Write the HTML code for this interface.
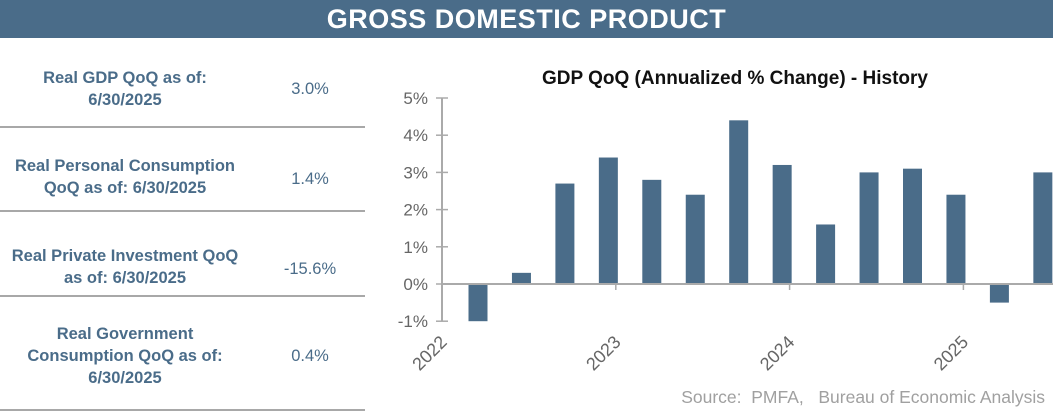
<!DOCTYPE html>
<html><head><meta charset="utf-8"><style>
body{margin:0;width:1053px;height:417px;background:#fff;font-family:"Liberation Sans",sans-serif;overflow:hidden;position:relative}
#hdr{position:absolute;left:0;top:0;width:1053px;height:38px;background:#4a6c89;color:#fff;font-weight:bold;font-size:27px;text-align:center;line-height:38px;letter-spacing:0.5px}
.row{position:absolute;left:0;width:365px;color:#4a6c89}
.lab{position:absolute;left:0;width:250px;text-align:center;font-size:16.5px;font-weight:bold;line-height:22px}
.val{position:absolute;left:260px;width:100px;text-align:center;font-size:16.5px}
.sep{position:absolute;left:0;width:365px;height:2px;background:#a8a8a8}
#src{position:absolute;right:8px;top:387px;font-size:17.5px;color:#a0a0a0}
</style></head><body>
<div id="hdr">GROSS DOMESTIC PRODUCT</div>
<div class="row" style="top:60px;height:60px">
<div class="lab" style="top:7px">Real GDP QoQ as of:<br>6/30/2025</div>
<div class="val" style="top:20px">3.0%</div></div>
<div class="sep" style="top:126px"></div>
<div class="row" style="top:150px">
<div class="lab" style="top:5px">Real Personal Consumption<br>QoQ as of: 6/30/2025</div>
<div class="val" style="top:20px">1.4%</div></div>
<div class="sep" style="top:210px"></div>
<div class="row" style="top:240px">
<div class="lab" style="top:5px">Real Private Investment QoQ<br>as of: 6/30/2025</div>
<div class="val" style="top:20px">-15.6%</div></div>
<div class="sep" style="top:295px"></div>
<div class="row" style="top:322px">
<div class="lab" style="top:1px">Real Government<br>Consumption QoQ as of:<br>6/30/2025</div>
<div class="val" style="top:25px">0.4%</div></div>
<div class="sep" style="top:409px"></div>
<svg id="chart" width="1053" height="417" style="position:absolute;left:0;top:0">
<text x="735" y="84" text-anchor="middle" font-size="19" font-weight="bold" fill="#111">GDP QoQ (Annualized % Change) - History</text>
</svg>
<div id="src">Source:&nbsp; PMFA,&nbsp;&nbsp; Bureau of Economic Analysis</div>
<script>
const values=[-1.0,0.3,2.7,3.4,2.8,2.4,4.4,3.2,1.6,3.0,3.1,2.4,-0.5,3.0];
const yTicks=[-1,0,1,2,3,4,5];
const yearLabels=["2022","2023","2024","2025"];
const svg=document.getElementById('chart');
const NS='http://www.w3.org/2000/svg';
const x0=442,step=43.45;
function y(v){return 284-v*37.2;}
function xc(i){return 478+i*step;}
function mk(t,a){const e=document.createElementNS(NS,t);for(const k in a)e.setAttribute(k,a[k]);svg.appendChild(e);return e;}
values.forEach((v,i)=>{const r=mk('rect',{x:xc(i)-9.5,y:Math.min(y(v),y(0)),width:19,height:Math.abs(y(v)-y(0)),fill:'#4a6c89'});

});
const ax=mk('line',{x1:x0,y1:y(5),x2:x0,y2:y(-1),stroke:'#aaa','stroke-width':2});


const zx=mk('line',{x1:x0,y1:y(0),x2:1053,y2:y(0),stroke:'#aaa','stroke-width':2});


yTicks.forEach(t=>{mk('line',{x1:x0-6,y1:y(t),x2:x0+6,y2:y(t),stroke:'#aaa','stroke-width':1.5});
const tx=mk('text',{x:x0-14,y:y(t)+6,'text-anchor':'end','font-size':17,fill:'#666'});tx.textContent=t+'%';

});
yearLabels.forEach((l,i)=>{const xx=x0+i*4*step;
if(i>0)mk('line',{x1:xx,y1:y(0),x2:xx,y2:y(0)+6,stroke:'#aaa','stroke-width':1.5});
const tx=mk('text',{x:xx+6,y:y(-1)+22,'text-anchor':'end','font-size':18,fill:'#666',transform:'rotate(-45 '+(xx+6)+' '+(y(-1)+22)+')'});tx.textContent=l;

});
</script>
</body></html>
